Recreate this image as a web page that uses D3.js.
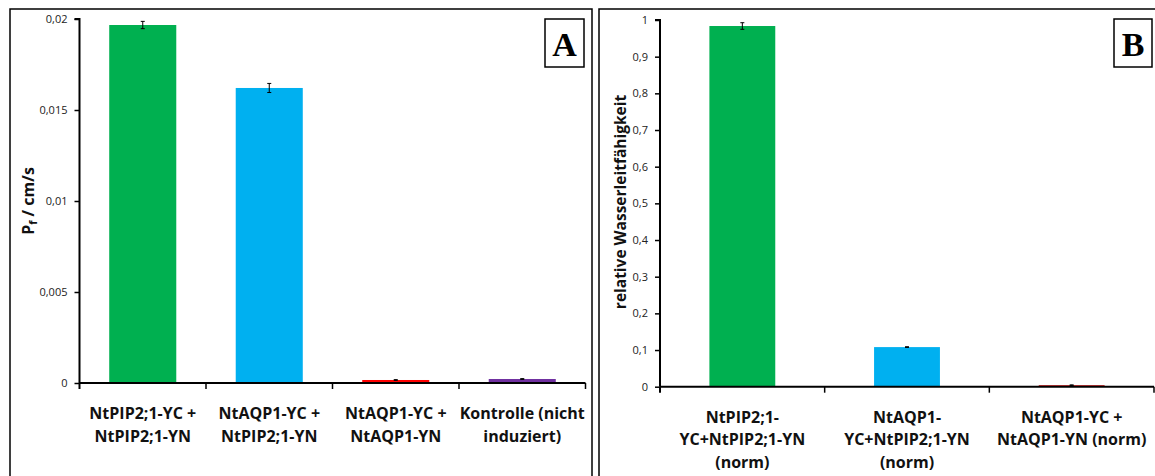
<!DOCTYPE html>
<html><head><meta charset="utf-8">
<script src="https://cdn.jsdelivr.net/npm/d3@7"></script>
<style>
body{margin:0;background:#fff;}
svg{display:block;font-family:"Open Sans",sans-serif;}
</style></head>
<body><svg id="c" width="1155" height="476"></svg>
<script>
// Panel A data
const catsA = [["NtPIP2;1-YC +","NtPIP2;1-YN"],["NtAQP1-YC +","NtPIP2;1-YN"],["NtAQP1-YC +","NtAQP1-YN"],["Kontrolle (nicht","induziert)"]];
const valsA = [0.01967, 0.01621, 0.000165, 0.00022];
const errA  = [0.0002, 0.00025, 0.00002, 0.00002];
const colorsA = ["#00b050","#00b0f0","#ff0000","#7030a0"];
const ticksA = [0,0.005,0.01,0.015,0.02];
// Panel B data
const catsB = [["NtPIP2;1-","YC+NtPIP2;1-YN","(norm)"],["NtAQP1-","YC+NtPIP2;1-YN","(norm)"],["NtAQP1-YC +","NtAQP1-YN (norm)"]];
const valsB = [0.9836, 0.108, 0.004];
const errB  = [0.009, 0.001, 0.001];
const colorsB = ["#00b050","#00b0f0","#c00000"];
const ticksB = [0,0.1,0.2,0.3,0.4,0.5,0.6,0.7,0.8,0.9,1];

const svg = d3.select("#c");
const fmt = d => String(d).replace(".", ",");
const FONT = "'Open Sans',sans-serif";

function panel(o){
  const g = svg.append("g");
  g.append("rect").attr("x",o.frame[0]).attr("y",o.frame[1]).attr("width",o.frame[2]).attr("height",o.frame[3])
    .attr("fill","none").attr("stroke","#000").attr("stroke-width",1.5);
  const x = d3.scaleBand().domain(d3.range(o.vals.length)).range([o.x0,o.x1]).paddingInner(o.pad).paddingOuter(o.pad/2);
  const y = d3.scaleLinear().domain([0,o.max]).range([o.y0,o.y1]);
  g.selectAll("rect.bar").data(o.vals).join("rect").attr("class","bar")
    .attr("x",(d,i)=>x(i)).attr("width",x.bandwidth())
    .attr("y",d=>y(d)).attr("height",d=>y(0)-y(d)).attr("fill",(d,i)=>o.colors[i]);
  o.vals.forEach((v,i)=>{
    const cx = x(i)+x.bandwidth()/2, e=o.err[i];
    const eg = g.append("g").attr("stroke","#000").attr("stroke-width",1);
    eg.append("line").attr("x1",cx).attr("x2",cx).attr("y1",y(v+e)).attr("y2",y(v-e));
    eg.append("line").attr("x1",cx-2).attr("x2",cx+2).attr("y1",y(v+e)).attr("y2",y(v+e));
    eg.append("line").attr("x1",cx-2).attr("x2",cx+2).attr("y1",y(v-e)).attr("y2",y(v-e));
  });
  const ya = g.append("g").attr("transform",`translate(${o.x0},0)`)
    .call(d3.axisLeft(y).tickValues(o.ticks).tickFormat(fmt).tickSize(5).tickPadding(7));
  ya.select(".domain").attr("stroke-width",2).attr("d",`M-5,${y(o.max)}H0V${y(0)}`);
  ya.selectAll(".tick line").attr("stroke-width",1.5);
  ya.selectAll("text").attr("font-size",11).attr("fill","#222").attr("font-family",FONT);
  const xa = g.append("g").attr("transform",`translate(0,${o.y0})`);
  xa.append("line").attr("x1",o.x0).attr("x2",o.x1).attr("y1",0).attr("y2",0).attr("stroke","#000").attr("stroke-width",2);
  const tks = d3.range(o.vals.length).map(i=> x(i)+x.bandwidth()+x.step()*o.pad/2);
  xa.selectAll("line.t").data(tks).join("line").attr("class","t")
    .attr("x1",d=>d).attr("x2",d=>d).attr("y1",0).attr("y2",6).attr("stroke","#000").attr("stroke-width",1.5);
  xa.append("line").attr("x1",o.x0).attr("x2",o.x0).attr("y1",0).attr("y2",6).attr("stroke","#000").attr("stroke-width",2);
  o.cats.forEach((lines,i)=>{
    const cx = x(i)+x.bandwidth()/2;
    const t = g.append("text").attr("x",cx).attr("y",o.y0+36).attr("text-anchor","middle")
      .attr("font-size",16).attr("font-weight","bold").attr("fill","#111").attr("font-family",FONT);
    lines.forEach((l,j)=>t.append("tspan").attr("x",cx).attr("dy",j?22.5:0).text(l));
  });
  g.append("rect").attr("x",o.box[0]).attr("y",o.box[1]).attr("width",o.box[2]).attr("height",o.box[3])
    .attr("fill","#fff").attr("stroke","#000").attr("stroke-width",1.5);
  g.append("text").attr("x",o.box[0]+o.box[2]/2).attr("y",o.box[1]+37).attr("text-anchor","middle")
    .attr("font-family","'Liberation Serif','DejaVu Serif',serif").attr("font-weight","bold").attr("font-size",34).text(o.letter);
  return {g,x,y};
}

panel({frame:[10,9,582,480],x0:79.5,x1:585.5,y0:383,y1:19,max:0.02,pad:0.47,
  vals:valsA,err:errA,colors:colorsA,ticks:ticksA,cats:catsA,box:[545,19,39,48],letter:"A"});
panel({frame:[599,9,570,480],x0:660,x1:1154,y0:386.7,y1:20,max:1,pad:0.6,
  vals:valsB,err:errB,colors:colorsB,ticks:ticksB,cats:catsB,box:[1114,19,38,48],letter:"B"});

const yl = svg.append("text").attr("transform","translate(34,201) rotate(-90)").attr("text-anchor","middle")
  .attr("font-size",16).attr("font-weight","bold").attr("fill","#111").attr("font-family",FONT);
yl.append("tspan").text("P");
yl.append("tspan").attr("font-size",11).attr("dy",3).text("f");
yl.append("tspan").attr("dy",-3).text(" / cm/s");
svg.append("text").attr("transform","translate(626,202) rotate(-90)").attr("text-anchor","middle")
  .attr("font-size",15.5).attr("font-weight","bold").attr("fill","#111").attr("font-family",FONT).text("relative Wasserleitfähigkeit");
</script></body></html>
